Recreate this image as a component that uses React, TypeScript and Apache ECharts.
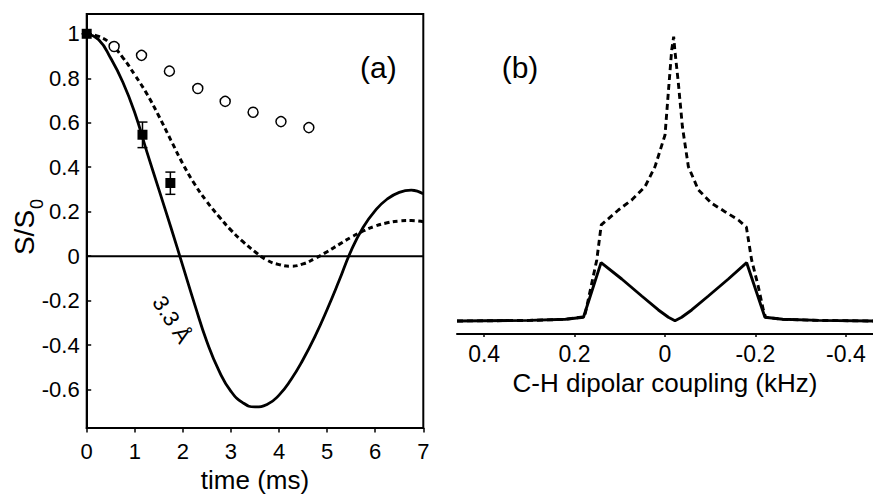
import React, { useEffect, useRef } from "react";
import * as echarts from "echarts";

// ---------- Panel (a): S/S0 vs time (ms) ----------
const ratioTicks = [-0.6, -0.4, -0.2, 0, 0.2, 0.4, 0.6, 0.8, 1];

// solid curve (3.3 Å)
const solidA: [number, number][] = [
  [0, 1.0], [0.25, 0.973], [0.5, 0.89], [0.75, 0.783], [1.0, 0.645],
  [1.25, 0.47], [1.5, 0.3], [1.75, 0.13], [2.0, -0.045], [2.25, -0.22],
  [2.5, -0.385], [2.75, -0.515], [3.0, -0.608], [3.25, -0.66], [3.5, -0.678],
  [3.75, -0.667], [4.0, -0.625], [4.25, -0.555], [4.5, -0.465], [4.75, -0.36],
  [5.0, -0.24], [5.25, -0.11], [5.5, 0.025], [5.75, 0.13], [6.0, 0.205],
  [6.25, 0.257], [6.5, 0.287], [6.75, 0.297], [7.0, 0.28],
];

// dashed curve
const dashedA: [number, number][] = [
  [0, 1.0], [0.25, 0.988], [0.5, 0.955], [0.75, 0.893], [1.0, 0.815],
  [1.25, 0.73], [1.5, 0.63], [1.75, 0.522], [2.0, 0.415], [2.25, 0.322],
  [2.5, 0.245], [2.75, 0.178], [3.0, 0.117], [3.25, 0.065], [3.5, 0.02],
  [3.75, -0.018], [4.0, -0.038], [4.25, -0.045], [4.5, -0.035], [4.75, -0.01],
  [5.0, 0.02], [5.25, 0.053], [5.5, 0.085], [5.75, 0.113], [6.0, 0.135],
  [6.25, 0.15], [6.5, 0.158], [6.75, 0.16], [7.0, 0.155],
];

// open circles
const circleTimes = [0.57, 1.14, 1.72, 2.31, 2.88, 3.46, 4.04, 4.62];
const circleValues = [0.943, 0.903, 0.832, 0.754, 0.696, 0.647, 0.605, 0.578];

// filled squares with error bars
const squareTimes = [0, 1.16, 1.74];
const squareValues = [1.0, 0.546, 0.329];
const squareLow = [1.0, 0.488, 0.278];
const squareHigh = [1.0, 0.603, 0.378];

const zeroLine: [number, number][] = [[0, 0], [7, 0]];
const curveLabelPos: [number, number] = [1.77, -0.285];
const curveLabelText = "3.3 Å";

// ---------- Panel (b): spectra ----------
const couplingTicks = [0.4, 0.2, 0, -0.2, -0.4];

const dashedB: [number, number][] = [
  [0.46, 0], [0.3, 0.002], [0.22, 0.006], [0.1781, 0.0151], [0.173, 0.0503],
  [0.162, 0.1326], [0.1509, 0.2146], [0.141, 0.338], [0.103, 0.3904],
  [0.0736, 0.4256], [0.0442, 0.4724], [0.0221, 0.5427], [0.0, 0.654],
  [-0.0075, 0.8066], [-0.0148, 0.9532], [-0.0192, 1.0], [-0.0221, 0.947],
  [-0.0296, 0.836], [-0.0385, 0.683], [-0.0517, 0.5427], [-0.0738, 0.4608],
  [-0.1032, 0.414], [-0.1326, 0.3845], [-0.1622, 0.3553], [-0.18, 0.33],
  [-0.1916, 0.2146], [-0.2064, 0.1206], [-0.2175, 0.0387], [-0.2225, 0.013],
  [-0.26, 0.006], [-0.34, 0.002], [-0.46, 0],
];

const solidB: [number, number][] = [
  [0.46, 0], [0.3, 0.002], [0.22, 0.006], [0.1803, 0.013], [0.1414, 0.2051],
  [0.0957, 0.1477], [0.0515, 0.0879], [0.0146, 0.0387], [-0.0075, 0.013],
  [-0.0221, 0.0011], [-0.0369, 0.013], [-0.059, 0.0387], [-0.0959, 0.0879],
  [-0.1401, 0.1477], [-0.1806, 0.2051], [-0.221, 0.013], [-0.26, 0.006],
  [-0.34, 0.002], [-0.46, 0],
];

const FONT = "Liberation Sans, Arial, Helvetica, sans-serif";

export default function App() {
  const ref = useRef<HTMLDivElement>(null);

  useEffect(() => {
    document.body.style.margin = "0";
    const chart = echarts.init(ref.current!, null, { renderer: "svg" });

    const textBase = { color: "#000", fontFamily: FONT };

    const option: any = {
      animation: false,
      backgroundColor: "#fff",
      textStyle: { fontFamily: FONT, color: "#000" },
      grid: [
        {
          left: 86.7, top: 14, width: 336.6, height: 418.3,
          show: true, borderColor: "#000", borderWidth: 2, backgroundColor: "transparent",
        },
        { left: 457, top: 19.6, width: 416, height: 313.9 },
      ],
      xAxis: [
        {
          type: "value", gridIndex: 0, min: 0, max: 7, interval: 1,
          axisLine: { show: true, onZero: false, lineStyle: { color: "#000", width: 2 } },
          axisTick: { show: true, inside: false, length: 4.5, lineStyle: { color: "#000", width: 1.5 } },
          axisLabel: { ...textBase, fontSize: 22, margin: 12 },
          splitLine: { show: false },
          name: "time (ms)", nameLocation: "middle", nameGap: 37,
          nameTextStyle: { ...textBase, fontSize: 26 },
        },
        {
          type: "value", gridIndex: 1, min: -0.46, max: 0.46, inverse: true,
          axisLine: { show: true, onZero: false, lineStyle: { color: "#000", width: 2 } },
          axisTick: {
            show: true, inside: false, length: 3.5, customValues: couplingTicks,
            lineStyle: { color: "#000", width: 1.5 },
          },
          axisLabel: {
            ...textBase, fontSize: 23, margin: 9, customValues: couplingTicks,
            formatter: (v: number) => String(Math.round(v * 10) / 10),
          },
          splitLine: { show: false },
          name: "C-H dipolar coupling (kHz)", nameLocation: "middle", nameGap: 33,
          nameTextStyle: { ...textBase, fontSize: 26 },
        },
      ],
      yAxis: [
        {
          type: "value", gridIndex: 0, min: -0.7734, max: 1.089,
          axisLine: { show: true, onZero: false, lineStyle: { color: "#000", width: 2 } },
          axisTick: {
            show: true, inside: true, length: 4.5, customValues: ratioTicks,
            lineStyle: { color: "#000", width: 1.5 },
          },
          axisLabel: {
            ...textBase, fontSize: 22, margin: 7, customValues: ratioTicks,
            formatter: (v: number) => String(Math.round(v * 10) / 10),
          },
          splitLine: { show: false },
        },
        { type: "value", gridIndex: 1, min: -0.044, max: 1.06, show: false },
      ],
      graphic: [
        {
          type: "text", left: 360, top: 52,
          style: { text: "(a)", fontSize: 30, fontFamily: FONT, fill: "#000" },
        },
        {
          type: "text", left: 501.7, top: 52,
          style: { text: "(b)", fontSize: 30, fontFamily: FONT, fill: "#000" },
        },
        {
          type: "group", x: 24.7, y: 232.5, rotation: Math.PI / 2,
          children: [
            {
              type: "text", x: 0, y: 0,
              style: { text: "S/S", fontSize: 28, fontFamily: FONT, fill: "#000", align: "center", verticalAlign: "middle" },
            },
            {
              type: "text", x: 28.5, y: 12,
              style: { text: "0", fontSize: 18, fontFamily: FONT, fill: "#000", align: "center", verticalAlign: "middle" },
            },
          ],
        },
      ],
      series: [
        {
          type: "line", xAxisIndex: 0, yAxisIndex: 0, data: zeroLine,
          symbol: "none", lineStyle: { color: "#000", width: 2 }, z: 2,
        },
        {
          type: "line", xAxisIndex: 0, yAxisIndex: 0, data: dashedA, smooth: true,
          symbol: "none", lineStyle: { color: "#000", width: 3, type: [5, 3.5] }, z: 3,
        },
        {
          type: "line", xAxisIndex: 0, yAxisIndex: 0, data: solidA, smooth: true,
          symbol: "none", lineStyle: { color: "#000", width: 2.8 }, z: 3,
        },
        {
          type: "scatter", xAxisIndex: 0, yAxisIndex: 0,
          data: circleTimes.map((t, i) => [t, circleValues[i]]),
          symbol: "circle", symbolSize: 10,
          itemStyle: { color: "#fff", borderColor: "#000", borderWidth: 1.5, opacity: 1 }, z: 4,
        },
        {
          type: "custom", xAxisIndex: 0, yAxisIndex: 0,
          data: squareTimes.map((t, i) => [t, squareLow[i], squareHigh[i]]),
          encode: { x: 0, y: [1, 2] },
          renderItem: (_p: any, api: any) => {
            const x = api.value(0);
            const lo = api.coord([x, api.value(1)]);
            const hi = api.coord([x, api.value(2)]);
            const half = 5;
            const style = { stroke: "#000", lineWidth: 1.5 };
            return {
              type: "group",
              children: [
                { type: "line", shape: { x1: lo[0], y1: lo[1], x2: hi[0], y2: hi[1] }, style },
                { type: "line", shape: { x1: lo[0] - half, y1: lo[1], x2: lo[0] + half, y2: lo[1] }, style },
                { type: "line", shape: { x1: hi[0] - half, y1: hi[1], x2: hi[0] + half, y2: hi[1] }, style },
              ],
            };
          },
          z: 5,
        },
        {
          type: "scatter", xAxisIndex: 0, yAxisIndex: 0,
          data: squareTimes.map((t, i) => [t, squareValues[i]]),
          symbol: "rect", symbolSize: 10, clip: false,
          itemStyle: { color: "#000", opacity: 1 }, z: 6,
        },
        {
          type: "custom", xAxisIndex: 0, yAxisIndex: 0,
          data: [curveLabelPos],
          encode: { x: 0, y: 1 },
          renderItem: (_p: any, api: any) => {
            const p = api.coord([api.value(0), api.value(1)]);
            return {
              type: "text", x: p[0], y: p[1], rotation: (-57 * Math.PI) / 180,
              style: {
                text: curveLabelText, fontSize: 22, fontFamily: FONT, fill: "#000",
                align: "center", verticalAlign: "middle",
              },
            };
          },
          z: 7,
        },
        {
          type: "line", xAxisIndex: 1, yAxisIndex: 1, data: dashedB,
          symbol: "none", lineStyle: { color: "#000", width: 2.9, type: [6, 4] }, z: 3,
        },
        {
          type: "line", xAxisIndex: 1, yAxisIndex: 1, data: solidB,
          symbol: "none", lineStyle: { color: "#000", width: 2.9 }, z: 4,
        },
      ],
    };

    chart.setOption(option);
    return () => chart.dispose();
  }, []);

  return (
    <div
      ref={ref}
      style={{ position: "absolute", left: 0, top: 0, width: 873, height: 498, background: "#fff" }}
    />
  );
}
